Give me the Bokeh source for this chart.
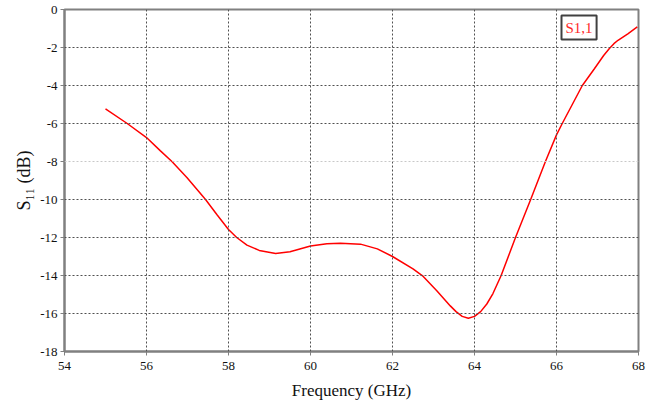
from bokeh.plotting import figure
from bokeh.models import Range1d, FixedTicker, Span, Label
from bokeh.embed import file_html
from bokeh.resources import INLINE

freq = [55.0, 55.53, 56.0, 56.34, 56.62, 56.99, 57.44, 57.72, 58.0, 58.2, 58.45, 58.75,
        59.15, 59.5, 60.0, 60.4, 60.73, 61.22, 61.63, 62.0, 62.5, 62.75, 63.08, 63.41,
        63.55, 63.7, 63.85, 64.0, 64.15, 64.3, 64.45, 64.65, 65.0, 65.37, 65.73, 66.0,
        66.14, 66.63, 66.92, 67.15, 67.29, 67.4, 67.5, 67.74, 67.97]
s11 = [-5.23, -6.0, -6.74, -7.44, -8.0, -8.85, -10.0, -10.8, -11.58, -12.0, -12.4, -12.68,
       -12.84, -12.75, -12.45, -12.33, -12.3, -12.35, -12.6, -13.0, -13.65, -14.05, -14.8, -15.6,
       -15.9, -16.15, -16.25, -16.15, -15.9, -15.5, -14.95, -14.0, -12.0, -10.0, -8.0, -6.6,
       -6.0, -4.0, -3.13, -2.42, -2.05, -1.8, -1.62, -1.28, -0.92]
x_ticks = [54, 56, 58, 60, 62, 64, 66, 68]
y_ticks = [0, -2, -4, -6, -8, -10, -12, -14, -16, -18]
series_name = "S1,1"

FONT = "Liberation Serif"

p = figure(width=671, height=403, output_backend="svg", toolbar_location=None,
           x_range=Range1d(54, 68), y_range=Range1d(-18, 0),
           min_border_left=64, min_border_right=33, min_border_top=9, min_border_bottom=52)
p.background_fill_color = "white"
p.border_fill_color = "white"
p.outline_line_color = "#808080"
p.outline_line_width = 2

p.xgrid.visible = False
p.ygrid.visible = False

for xv in x_ticks[1:-1]:
    p.add_layout(Span(location=xv, dimension="height", line_color="#505050",
                      line_width=1, line_dash="2 2"))
for yv in y_ticks[1:-1]:
    col = "#c8c8c8" if yv == -8 else "#505050"
    p.add_layout(Span(location=yv, dimension="width", line_color=col,
                      line_width=1, line_dash="2 2"))

for ax in (p.xaxis[0], p.yaxis[0]):
    ax.axis_line_color = "#808080"
    ax.axis_line_width = 2
    ax.major_tick_line_color = "#808080"
    ax.major_tick_out = 4
    ax.major_tick_in = 0
    ax.minor_tick_line_color = None
    ax.major_label_text_font = FONT
    ax.major_label_text_font_size = "13px"
    ax.major_label_text_color = "#111111"

p.xaxis.ticker = FixedTicker(ticks=x_ticks)
p.yaxis.ticker = FixedTicker(ticks=y_ticks)
p.xaxis.major_label_overrides = {t: str(t) for t in x_ticks}
p.yaxis.major_label_overrides = {t: str(t) for t in y_ticks}
p.xaxis.major_label_standoff = 6
p.yaxis.major_label_standoff = 3

p.xaxis.axis_label = "Frequency (GHz)"
p.xaxis.axis_label_text_font = FONT
p.xaxis.axis_label_text_font_size = "17px"
p.xaxis.axis_label_text_font_style = "normal"
p.xaxis.axis_label_text_color = "#111111"
p.xaxis.axis_label_standoff = 8

p.yaxis.axis_label = "S\u2081\u2081 (dB)"
p.yaxis.axis_label_text_font = FONT
p.yaxis.axis_label_text_font_size = "18px"
p.yaxis.axis_label_text_font_style = "normal"
p.yaxis.axis_label_text_color = "#111111"
p.yaxis.axis_label_standoff = 3

p.line(freq, s11, line_color="#ff0000", line_width=1.5)

def px2x(px):
    return 54 + (px - 64) / 41.0

def py2y(py):
    return -(py - 9) / 19.0

# legend box
p.add_layout(Label(x=px2x(561), y=py2y(15), text=series_name,
                   text_align="left", text_baseline="top",
                   text_font=FONT, text_font_size="15px", text_color="#ff2a2a",
                   background_fill_color="white", border_line_color="#404040",
                   border_line_width=2, padding=4))

open("out.html", "w").write(file_html(p, INLINE))
